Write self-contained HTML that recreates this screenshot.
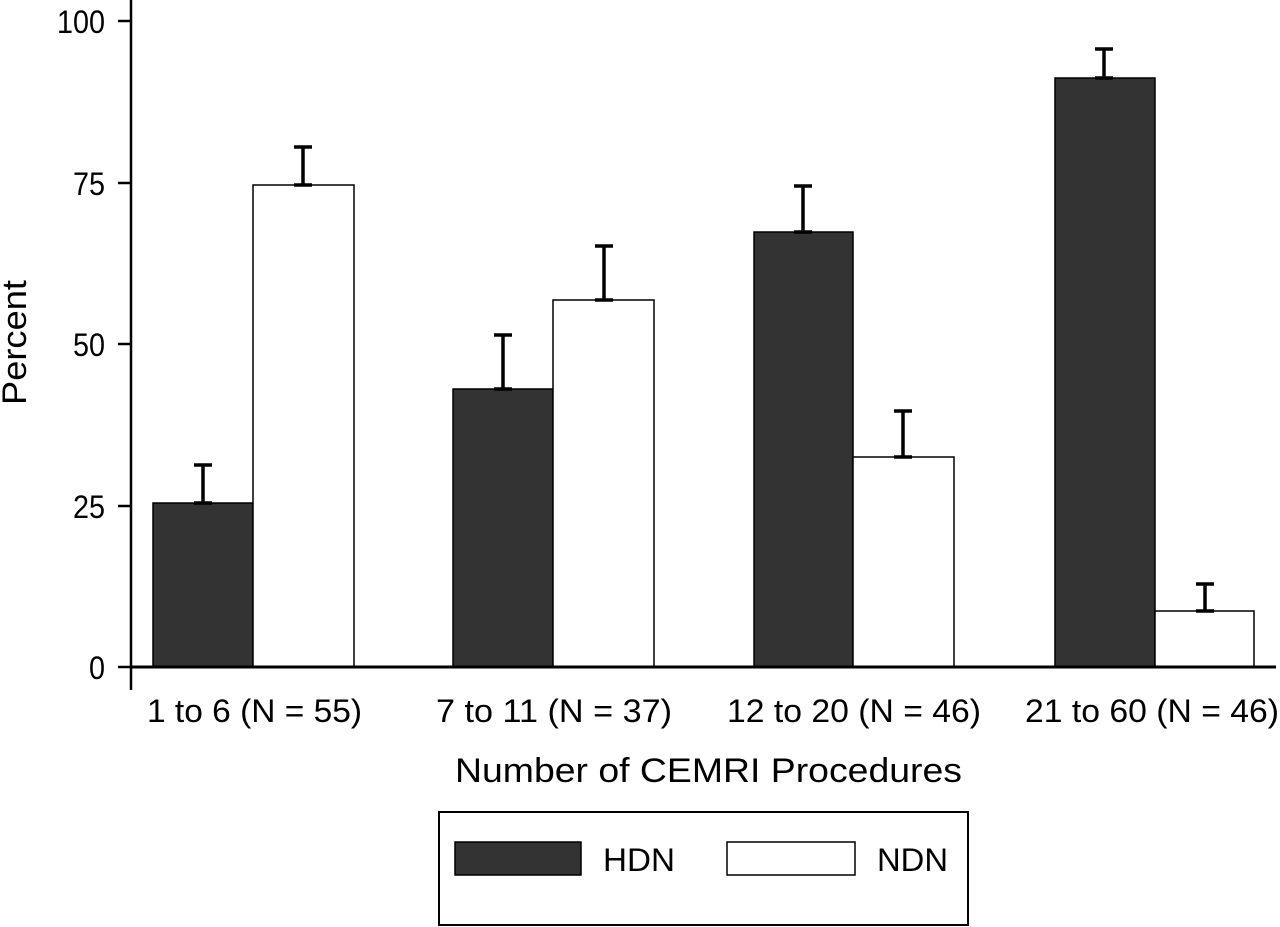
<!DOCTYPE html>
<html><head><meta charset="utf-8"><style>body{margin:0;background:#fff}svg{display:block}</style></head><body>
<svg width="1280" height="927" viewBox="0 0 1280 927" xmlns="http://www.w3.org/2000/svg" font-family="Liberation Sans, sans-serif">
<rect width="1280" height="927" fill="#fff"/>
<g fill="#333" stroke="#000" stroke-width="1.5">
<rect x="153" y="503" width="100" height="164"/>
<rect x="453" y="389" width="100" height="278"/>
<rect x="754" y="232" width="99" height="435"/>
<rect x="1055" y="78" width="100" height="589"/>
</g>
<g fill="#fff" stroke="#000" stroke-width="1.5">
<rect x="253" y="185" width="101" height="482"/>
<rect x="553" y="300" width="101" height="367"/>
<rect x="853" y="457" width="101" height="210"/>
<rect x="1155" y="611" width="99" height="56"/>
</g>
<g stroke="#000" stroke-width="3.5" fill="none">
<path d="M203 503V465M194 465H212M194 503H212"/>
<path d="M303 185V147M294 147H312M294 185H312"/>
<path d="M503 389V335M494 335H512M494 389H512"/>
<path d="M604 300V246M595 246H613M595 300H613"/>
<path d="M803 232V186M794 186H812M794 232H812"/>
<path d="M903 457V411M894 411H912M894 457H912"/>
<path d="M1104 78V49M1095 49H1113M1095 78H1113"/>
<path d="M1205 611V584M1196 584H1214M1196 611H1214"/>
</g>
<g stroke="#000" stroke-width="2.5">
<line x1="131" y1="0" x2="131" y2="690"/>
<line x1="131" y1="667" x2="1276" y2="667" stroke-width="3"/>
<line x1="118" y1="21" x2="131" y2="21"/>
<line x1="118" y1="183" x2="131" y2="183"/>
<line x1="118" y1="344" x2="131" y2="344"/>
<line x1="118" y1="506" x2="131" y2="506"/>
<line x1="118" y1="667" x2="131" y2="667"/>
</g>
<g font-size="32" fill="#000">
<text x="57" y="33" textLength="48" lengthAdjust="spacingAndGlyphs">100</text>
<text x="73" y="195" textLength="32" lengthAdjust="spacingAndGlyphs">75</text>
<text x="73" y="356" textLength="32" lengthAdjust="spacingAndGlyphs">50</text>
<text x="73" y="518" textLength="32" lengthAdjust="spacingAndGlyphs">25</text>
<text x="89" y="679" textLength="16" lengthAdjust="spacingAndGlyphs">0</text>
<text x="147" y="722" textLength="215" lengthAdjust="spacingAndGlyphs">1 to 6 (N = 55)</text>
<text x="436" y="722" textLength="236" lengthAdjust="spacingAndGlyphs">7 to 11 (N = 37)</text>
<text x="727" y="722" textLength="254" lengthAdjust="spacingAndGlyphs">12 to 20 (N = 46)</text>
<text x="1025" y="722" textLength="254" lengthAdjust="spacingAndGlyphs">21 to 60 (N = 46)</text>
<text x="455" y="782" font-size="34" textLength="507" lengthAdjust="spacingAndGlyphs">Number of CEMRI Procedures</text>
<text transform="translate(26,405) rotate(-90)" font-size="34" textLength="125" lengthAdjust="spacingAndGlyphs">Percent</text>
</g>
<rect x="439" y="812" width="529" height="113" fill="#fff" stroke="#000" stroke-width="2"/>
<rect x="455" y="842" width="126" height="33" fill="#333" stroke="#000" stroke-width="1.5"/>
<rect x="727" y="842" width="128" height="33" fill="#fff" stroke="#000" stroke-width="1.5"/>
<text x="603" y="871" font-size="32" textLength="72" lengthAdjust="spacingAndGlyphs">HDN</text>
<text x="877" y="871" font-size="32" textLength="71" lengthAdjust="spacingAndGlyphs">NDN</text>
</svg>
</body></html>
